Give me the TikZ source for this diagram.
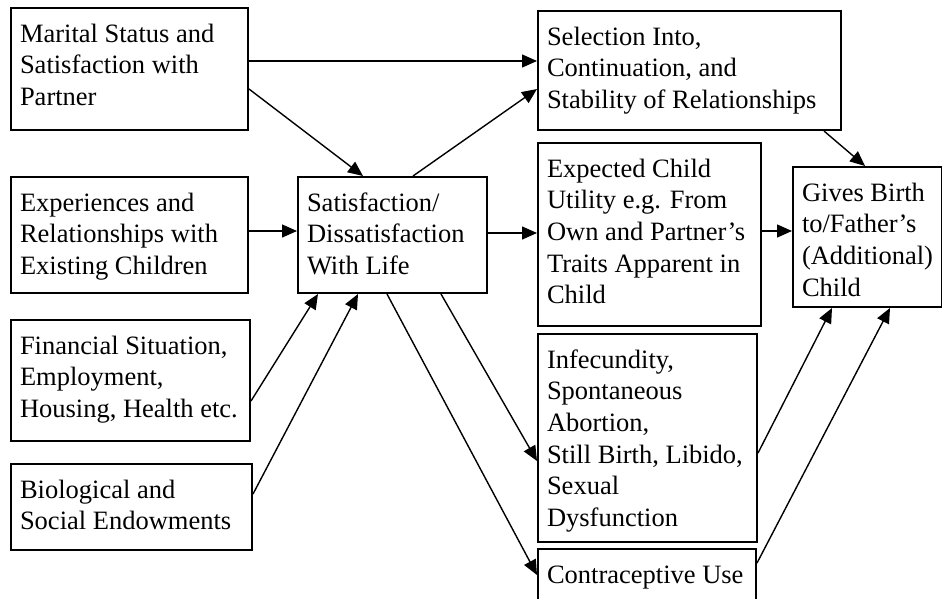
\documentclass[tikz,border=0pt]{standalone}
\usepackage{fontspec}
\setmainfont{Liberation Serif}
\usetikzlibrary{arrows.meta,calc}
\newcommand{\bt}[3]{\parbox[c][#2][t]{#1}{\rule{0pt}{34pt}#3}}
\tikzset{
  box/.style={draw, line width=2pt, inner xsep=9pt, inner ysep=0pt, anchor=north west,
    font=\fontsize{26.5}{31.7}\selectfont},
  arr/.style={line width=1.4pt, -{Triangle[length=15pt,width=13pt]}}
}
\begin{document}
\begin{tikzpicture}[x=1pt,y=-1pt]
\useasboundingbox (0,0) rectangle (942,598);
\clip (0,0) rectangle (942,598);
\node[box] (b1) at (10,7) {\bt{219pt}{122pt}{\mbox{Marital Status and}\\\mbox{Satisfaction with}\\\mbox{Partner}}};
\node[box] (b2) at (10,176) {\bt{219pt}{116pt}{\mbox{Experiences and}\\\mbox{Relationships with}\\\mbox{Existing Children}}};
\node[box] (b3) at (10,319) {\bt{221pt}{121pt}{\mbox{Financial Situation,}\\\mbox{Employment,}\\\mbox{Housing, Health etc.}}};
\node[box] (b4) at (10,463) {\bt{223pt}{86pt}{\mbox{Biological and}\\\mbox{Social Endowments}}};
\node[box] (b5) at (297,176) {\bt{171pt}{116pt}{\mbox{Satisfaction/}\\\mbox{Dissatisfaction}\\\mbox{With Life}}};
\node[box] (b6) at (537,10) {\bt{285pt}{119pt}{\mbox{Selection Into,}\\\mbox{Continuation, and}\\\mbox{Stability of Relationships}}};
\node[box] (b7) at (537,142) {\bt{205pt}{183pt}{\mbox{Expected Child}\\\mbox{Utility e.g. From}\\\mbox{Own and Partner's}\\\mbox{Traits Apparent in}\\\mbox{Child}}};
\node[box] (b8) at (792,166) {\bt{131pt}{140pt}{\mbox{Gives Birth}\\\mbox{to/Father's}\\\mbox{(Additional)}\\\mbox{Child}}};
\node[box] (b9) at (537,333) {\bt{201pt}{208pt}{\mbox{Infecundity,}\\\mbox{Spontaneous}\\\mbox{Abortion,}\\\mbox{Still Birth, Libido,}\\\mbox{Sexual}\\\mbox{Dysfunction}}};
\node[box] (b10) at (537,548) {\bt{200pt}{70pt}{\mbox{Contraceptive Use}}};
% connectors
\coordinate (p1) at ([yshift=8pt]b1.east);
\draw[arr] (p1) -- (p1 -| b6.west);
\draw[arr] ([yshift=-20pt]b1.east) -- ([xshift=66pt]b5.south west |- b5.north);
\draw[arr] ([xshift=116pt]b5.south west |- b5.north) -- ([yshift=-18.5pt]b6.west);
\coordinate (p2) at ([yshift=4pt]b2.east);
\draw[arr] (p2) -- (p2 -| b5.west);
\coordinate (p3) at ([yshift=2pt]b5.east);
\draw[arr] (p3) -- (p3 -| b7.west);
\coordinate (p4) at ([yshift=3.5pt]b7.east);
\draw[arr] (p4) -- (p4 -| b8.west);
\draw[arr] ([xshift=-18pt]b6.south east) -- ([xshift=-2.5pt]b8.north);
\draw[arr] ([yshift=-20.5pt]b3.east) -- ([xshift=21pt]b5.south west);
\draw[arr] ([yshift=13pt]b4.east) -- ([xshift=61pt]b5.south west);
\draw[arr] ([xshift=90pt]b5.south west) -- ([yshift=-27pt]b10.north west);
\draw[arr] ([xshift=144pt]b5.south west) -- ([yshift=-23pt]b9.west);
\draw[arr] ([yshift=-15pt]b9.east) -- ([xshift=40pt]b8.south west);
\draw[arr] ([yshift=-15pt]b10.north east) -- ([xshift=98pt]b8.south west);
\end{tikzpicture}
\end{document}
